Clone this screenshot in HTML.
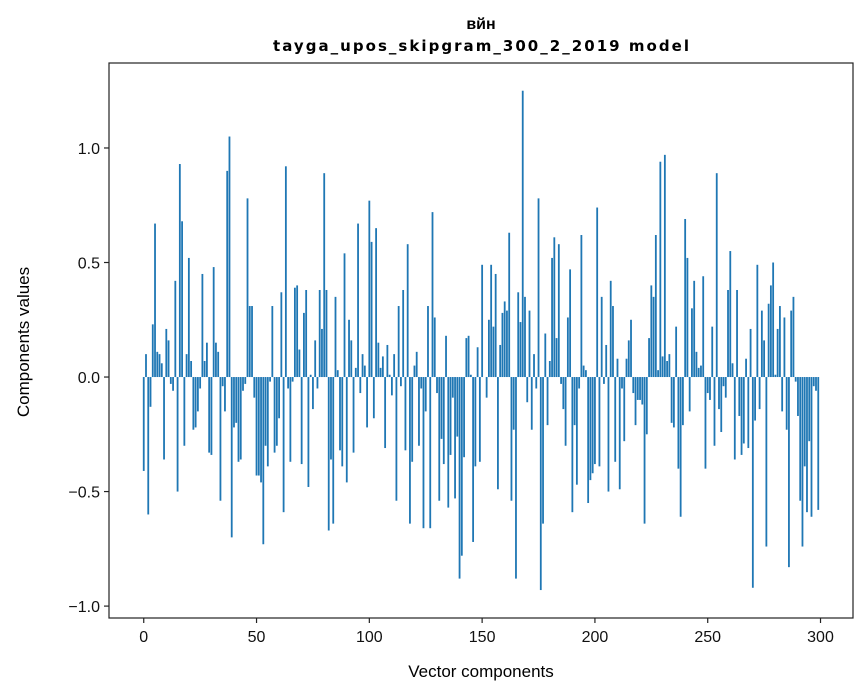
<!DOCTYPE html>
<html><head><meta charset="utf-8"><style>
html,body{margin:0;padding:0;background:#fff;}
svg{display:block;font-family:"Liberation Sans","DejaVu Sans",sans-serif;}
</style></head><body>
<svg id="chart" width="867" height="696" viewBox="0 0 867 696" xmlns="http://www.w3.org/2000/svg">
<rect x="0" y="0" width="867" height="696" fill="#fff"/>
<text x="481" y="29" text-anchor="middle" font-size="16" font-weight="bold">вйн</text>
<text x="481" y="51" text-anchor="middle" font-size="15" font-weight="bold" font-family="DejaVu Sans, sans-serif" textLength="416" lengthAdjust="spacing">tayga_upos_skipgram_300_2_2019 model</text>
<g id="bars"></g>
<g id="axes"></g>
<text x="481" y="677" text-anchor="middle" font-size="17">Vector components</text>
<text x="29" y="342" text-anchor="middle" font-size="17" transform="rotate(-90 29 342)">Components values</text>
</svg>
<script>
const values = [
-0.41,0.10,-0.60,-0.13,0.23,0.67,0.11,0.10,0.06,-0.36,0.21,0.16,-0.03,-0.06,0.42,-0.50,0.93,0.68,-0.30,0.10,
0.52,0.07,-0.23,-0.22,-0.15,-0.05,0.45,0.07,0.15,-0.33,-0.34,0.48,0.15,0.11,-0.54,-0.04,-0.15,0.90,1.05,-0.70,
-0.22,-0.20,-0.37,-0.36,-0.06,-0.03,0.78,0.31,0.31,-0.09,-0.43,
-0.43,-0.46,-0.73,-0.30,-0.39,-0.02,0.31,-0.33,-0.30,-0.18,0.37,-0.59,0.92,-0.05,-0.37,-0.02,0.39,0.40,0.12,-0.38,
0.28,0.38,-0.48,0.01,-0.14,0.16,-0.05,0.38,0.21,0.89,0.38,-0.67,-0.36,-0.64,0.35,0.03,-0.32,-0.39,0.54,-0.46,
0.25,0.16,-0.33,0.04,0.67,-0.07,0.10,0.05,-0.22,0.77,
0.59,-0.18,0.65,0.15,0.04,0.09,-0.31,0.14,0.01,-0.08,0.10,-0.54,0.31,-0.04,0.38,-0.32,0.58,-0.64,-0.37,0.05,
0.11,-0.30,-0.05,-0.66,-0.15,0.31,-0.66,0.72,0.26,-0.07,-0.54,-0.27,-0.38,0.18,-0.57,-0.34,-0.09,-0.53,-0.26,-0.88,
-0.78,-0.35,0.17,0.18,0.01,-0.72,-0.39,0.13,-0.37,0.49,
0.00,-0.09,0.25,0.49,0.22,0.45,-0.49,0.14,0.28,0.33,0.29,0.63,-0.54,-0.23,-0.88,0.37,0.24,1.25,0.35,-0.11,
0.29,-0.23,0.10,-0.05,0.78,-0.93,-0.64,0.19,-0.21,0.07,0.52,0.61,0.17,0.58,-0.03,-0.14,-0.30,0.26,0.47,-0.59,
-0.21,-0.47,-0.05,0.62,0.05,0.03,-0.55,-0.45,-0.42,
-0.38,0.74,-0.39,0.35,-0.03,0.14,-0.50,0.42,0.31,-0.37,0.08,-0.49,-0.05,-0.28,0.08,0.16,0.25,-0.07,-0.21,-0.10,
-0.10,-0.12,-0.64,-0.25,0.17,0.40,0.35,0.62,0.03,0.94,0.09,0.97,0.07,0.10,-0.20,-0.22,0.22,-0.40,-0.61,-0.21,
0.69,0.52,-0.15,0.30,0.42,0.11,0.04,0.05,0.44,-0.40,
-0.07,-0.10,0.22,-0.30,0.89,-0.14,-0.24,-0.04,-0.09,0.38,0.55,0.06,-0.36,0.38,-0.17,-0.34,-0.29,0.08,-0.31,0.21,
-0.92,-0.19,0.49,-0.14,0.29,0.16,-0.74,0.32,0.40,0.50,0.01,0.21,0.31,-0.15,0.26,-0.23,-0.83,0.29,0.35,-0.02,
-0.17,-0.54,-0.74,-0.39,-0.59,-0.28,-0.61,-0.04,-0.06,-0.58
];
const xTicks = [0,50,100,150,200,250,300];
const xTickLabels = ["0","50","100","150","200","250","300"];
const yTicks = [-1.0,-0.5,0.0,0.5,1.0];
const yTickLabels = ["\u22121.0","\u22120.5","0.0","0.5","1.0"];

const NS = "http://www.w3.org/2000/svg";
const L = 109, R = 853, T = 63, B = 618;
const xMin = -15.4, xMax = 314.4, yMin = -1.052, yMax = 1.371;
function xs(v){ return L + (v - xMin) / (xMax - xMin) * (R - L); }
function ys(v){ return B - (v - yMin) / (yMax - yMin) * (B - T); }
function mk(tag, attrs, parent){
  const e = document.createElementNS(NS, tag);
  for (const k in attrs) e.setAttribute(k, attrs[k]);
  parent.appendChild(e);
  return e;
}
const bars = document.getElementById('bars');
const bw = xs(0.8) - xs(0);
values.forEach((v, i) => {
  const y0 = ys(0), y1 = ys(v);
  const r = mk('rect', {x: xs(i - 0.4), y: Math.min(y0, y1), width: bw, height: Math.max(Math.abs(y1 - y0), 0.01), fill: '#1f77b4'}, bars);
  
  
});
const axes = document.getElementById('axes');
const frame = mk('rect', {x: L, y: T, width: R - L, height: B - T, fill: 'none', stroke: '#222', 'stroke-width': 1.2}, axes);


xTicks.forEach((t, i) => {
  const x = xs(t);
  const tk = mk('line', {x1: x, x2: x, y1: B, y2: B + 5, stroke: '#222', 'stroke-width': 1.2}, axes);
  
  
  const lb = mk('text', {x: x, y: B + 24, 'text-anchor': 'middle', 'font-size': 16, fill: '#111'}, axes);
  lb.textContent = xTickLabels[i];
  
  
});
yTicks.forEach((t, i) => {
  const y = ys(t);
  const tk = mk('line', {x1: L - 5, x2: L, y1: y, y2: y, stroke: '#222', 'stroke-width': 1.2}, axes);
  
  
  const lb = mk('text', {x: L - 9, y: y + 6, 'text-anchor': 'end', 'font-size': 16, fill: '#111'}, axes);
  lb.textContent = yTickLabels[i];
  
  
});
</script>
</body></html>
